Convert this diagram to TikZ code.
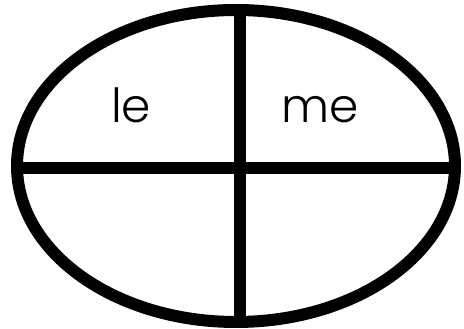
\documentclass[tikz,border=0pt]{standalone}
\usepackage{fontspec}
\setmainfont{Poppins Light}
\begin{document}
\begin{tikzpicture}[x=1pt,y=1pt,
  thick line/.style={line width=12pt,black},
  cell/.style={anchor=base,inner sep=0pt,font=\fontsize{47}{47}\selectfont}]
\useasboundingbox (0,0) rectangle (464,329);
\draw[thick line] (236,163) ellipse [x radius=219, y radius=156];
\coordinate (top) at (240,319);
\coordinate (bot) at (240,7);
\coordinate (lft) at (17,161);
\coordinate (rgt) at (455,161);
\draw[thick line] (top) -- (bot);
\draw[thick line] (lft) -- (rgt);
\node[cell] (le) at (131,206) {le};
\node[cell] (me) at (320,206) {me};
\end{tikzpicture}
\end{document}
